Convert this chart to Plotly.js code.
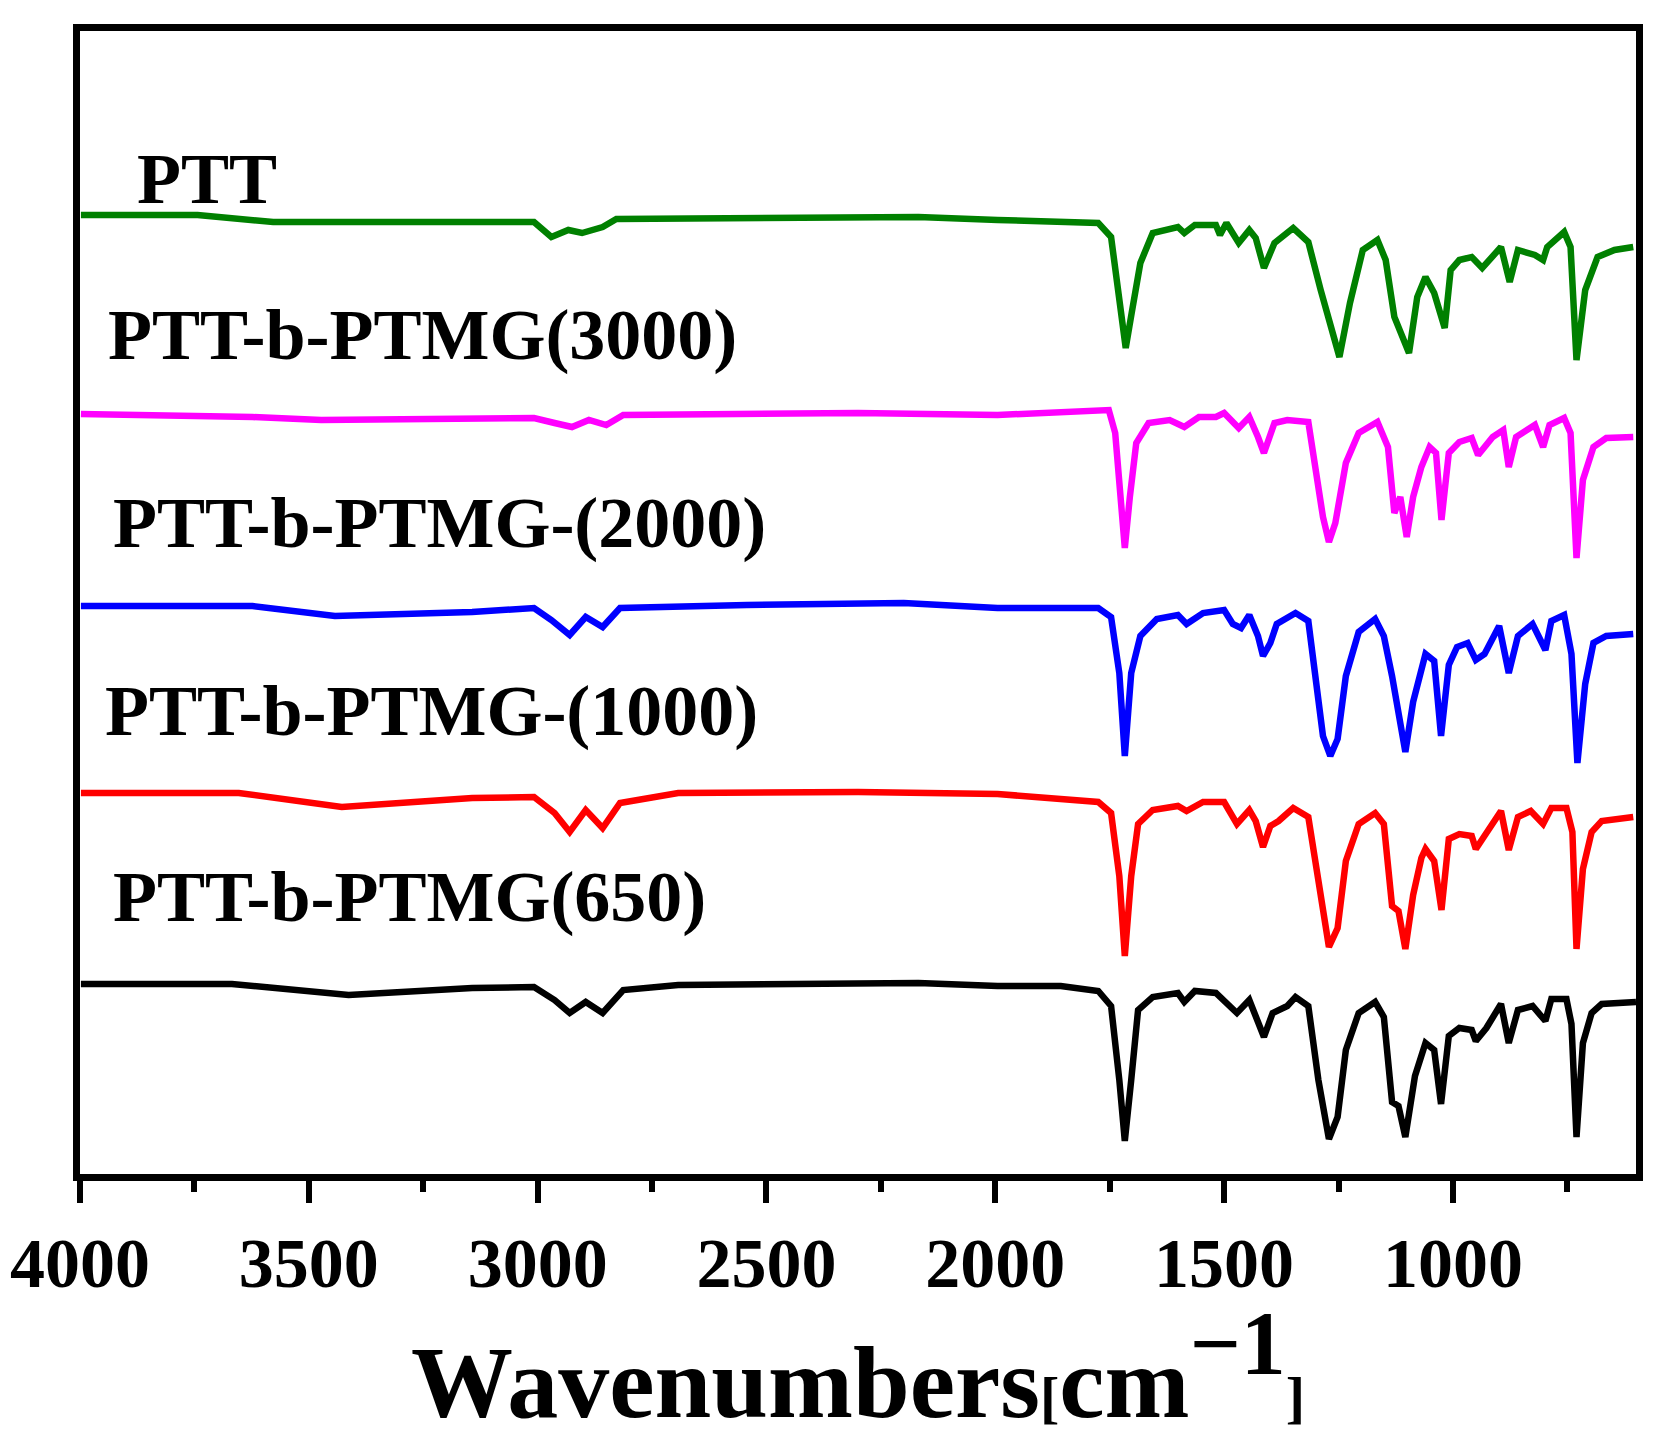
<!DOCTYPE html>
<html>
<head>
<meta charset="utf-8">
<script src="https://cdn.plot.ly/plotly-3.0.1.min.js"></script>
<style>
  body { margin: 0; background: #fff; }
  #ftir { width: 1657px; height: 1439px; }
</style>
</head>
<body>
<div id="ftir"></div>
<script>
// FTIR spectra, stacked (transmittance offset, a.u.)
var pttWn = [3998,3743,3578,3173,3008,2970,2933,2903,2858,2828,2543,2168,1995,1775,1747,1729,1715,1702,1683,1656,1601,1587,1564,1518,1509,1495,1468,1445,1431,1413,1390,1349,1316,1289,1248,1225,1197,1165,1147,1128,1096,1078,1060,1041,1018,1005,986,959,936,895,876,858,821,803,794,757,743,730,711,684,647,606];
var pttT  = [962,962,955,955,955,940,947,944,950,958,959,960,957,954,940,870,829,864,914,944,950,944,952,952,942,954,934,947,939,909,934,949,935,887,820,874,927,937,917,860,824,880,900,884,849,907,917,920,909,930,895,927,922,917,930,945,930,817,887,920,927,930];

var p3000Wn = [3998,3623,3473,3008,2963,2925,2888,2850,2813,2543,2300,1995,1752,1738,1725,1717,1706,1692,1665,1619,1587,1555,1518,1500,1468,1445,1426,1413,1390,1362,1316,1298,1284,1271,1257,1234,1206,1165,1142,1128,1115,1101,1087,1069,1051,1037,1025,1009,986,959,945,913,890,878,862,821,803,789,757,743,730,716,693,665,606];
var p3000T  = [763,760,757,759,754,750,757,752,762,763,764,762,767,744,680,629,680,734,754,757,750,760,760,764,749,760,740,724,754,757,755,697,660,635,654,714,744,755,730,664,680,640,680,710,730,724,657,724,735,739,722,740,747,710,740,752,730,752,759,744,619,697,730,739,740];

var p2000Wn = [3998,3623,3443,3143,3008,2970,2930,2895,2858,2820,2543,2200,1995,1775,1747,1729,1717,1703,1683,1647,1601,1582,1546,1500,1481,1463,1445,1426,1415,1399,1385,1344,1316,1298,1284,1268,1252,1234,1206,1170,1151,1133,1119,1104,1087,1073,1060,1041,1026,1009,991,968,950,931,899,878,858,826,798,785,757,741,728,711,693,665,606];
var p2000T  = [571,571,561,565,569,557,542,560,550,569,572,574,569,569,560,504,421,504,541,558,562,553,564,567,553,549,562,541,521,534,553,564,556,493,441,421,438,501,545,558,541,501,464,425,475,501,523,516,441,512,530,534,517,523,551,504,541,553,527,556,562,523,414,493,534,541,543];

var p1000Wn = [3998,3653,3428,3143,3008,2963,2930,2895,2858,2820,2693,2300,1995,1903,1775,1747,1729,1717,1703,1688,1656,1601,1582,1546,1500,1472,1445,1431,1415,1399,1381,1349,1316,1298,1284,1271,1252,1234,1206,1170,1151,1133,1119,1104,1087,1069,1060,1041,1025,1009,986,959,950,927,895,878,858,830,803,785,752,739,730,716,697,675,606];
var p1000T  = [384,384,370,379,380,364,345,367,349,374,384,385,383,380,375,364,301,221,301,353,367,371,366,375,375,353,367,356,330,351,356,369,360,308,271,230,249,316,353,364,353,271,266,228,282,319,328,316,267,338,343,341,328,345,366,327,360,366,353,369,369,345,228,308,345,356,360];

var p650Wn = [3998,3668,3413,3143,3008,2963,2930,2895,2858,2813,2693,2168,1995,1857,1775,1747,1729,1717,1703,1688,1656,1601,1587,1564,1518,1472,1445,1426,1413,1394,1362,1344,1316,1294,1271,1252,1234,1206,1170,1151,1133,1119,1104,1083,1060,1041,1026,1009,986,959,950,927,895,878,858,826,798,785,752,741,730,716,697,675,615,600];
var p650T  = [193,193,182,189,190,177,164,175,164,187,192,194,191,191,186,171,97,36,97,167,180,184,175,186,184,164,177,156,140,164,171,180,171,97,38,60,127,164,175,160,75,71,40,101,134,127,73,141,149,147,136,149,173,134,167,171,156,178,178,153,40,134,164,173,175,175];

var sampleNames = ['PTT', 'PTT-b-PTMG(3000)', 'PTT-b-PTMG-(2000)', 'PTT-b-PTMG-(1000)', 'PTT-b-PTMG(650)'];
var lineColors = ['#008000', '#ff00ff', '#0000ff', '#ff0000', '#000000'];
var xTicks = [4000, 3500, 3000, 2500, 2000, 1500, 1000];

var serif = 'Liberation Serif, Times New Roman, serif';

var allWn = [pttWn, p3000Wn, p2000Wn, p1000Wn, p650Wn];
var allT = [pttT, p3000T, p2000T, p1000T, p650T];

var ftir_data = [];
for (var i = 0; i < allWn.length; i++) {
  ftir_data.push({
    x: allWn[i],
    y: allT[i],
    type: 'scatter',
    mode: 'lines',
    name: sampleNames[i],
    line: {color: lineColors[i], width: 6.5}
  });
}

// label spots: [paper x, y in data units]
var labelPos = [[0.0352, 998], [0.0165, 842], [0.0200, 654], [0.0145, 466], [0.0200, 280]];
var annots = [];
for (var j = 0; j < sampleNames.length; j++) {
  annots.push({
    xref: 'paper',
    yref: 'y',
    x: labelPos[j][0],
    y: labelPos[j][1],
    xanchor: 'left',
    yanchor: 'middle',
    text: sampleNames[j],
    showarrow: false,
    font: {family: serif, size: 72, color: '#000', weight: 'bold'}
  });
}

var layout = {
  width: 1657,
  height: 1439,
  margin: {l: 80, r: 21, t: 31, b: 265},
  paper_bgcolor: '#fff',
  plot_bgcolor: '#fff',
  showlegend: false,
  xaxis: {
    range: [4000, 600],
    tickvals: xTicks,
    ticktext: xTicks.map(String),
    ticks: 'outside',
    ticklen: 22,
    tickwidth: 6,
    tickcolor: '#000',
    minor: {dtick: 250, tick0: 0, ticks: 'outside', ticklen: 11, tickwidth: 6, tickcolor: '#000', showgrid: false},
    showline: true,
    linewidth: 7,
    linecolor: '#000',
    mirror: true,
    showgrid: false,
    zeroline: false,
    tickfont: {family: serif, size: 70, color: '#000', weight: 'bold'},
    title: {
      text: 'Wavenumbers<span style="font-size:58px">[</span>cm<sup><span style="font-size:90px">\u22121</span></sup><span style="font-size:58px">]</span>',
      font: {family: serif, size: 102, color: '#000', weight: 'bold'},
      standoff: 32
    }
  },
  yaxis: {
    range: [3, 1146],
    showline: true,
    linewidth: 7,
    linecolor: '#000',
    mirror: true,
    showticklabels: false,
    ticks: '',
    showgrid: false,
    zeroline: false
  },
  annotations: annots
};

Plotly.newPlot('ftir', ftir_data, layout, {staticPlot: true});
</script>
</body>
</html>
